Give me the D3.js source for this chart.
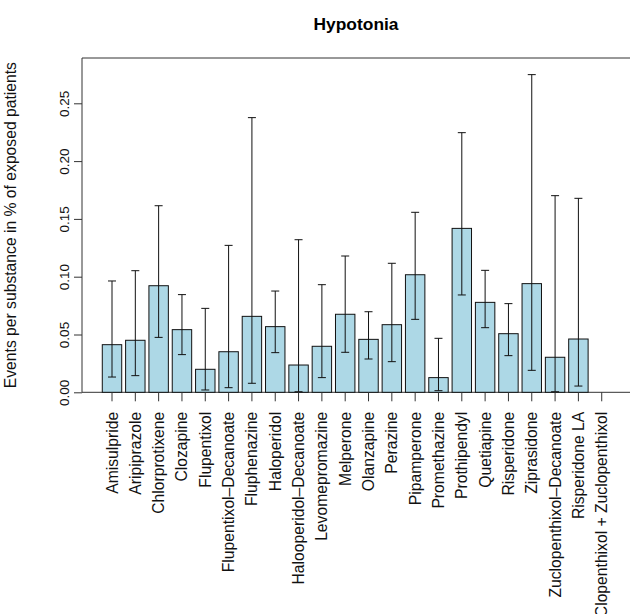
<!DOCTYPE html>
<html>
<head>
<meta charset="utf-8">
<script src="https://cdn.jsdelivr.net/npm/d3@7"></script>
<style>
  body { margin: 0; background: #fff; }
  text { font-family: "Liberation Sans", Arial, Helvetica, sans-serif; }
</style>
</head>
<body>
<div id="chart"></div>
<script>
const substances = ["Amisulpride", "Aripiprazole", "Chlorprotixene", "Clozapine", "Flupentixol",
  "Flupentixol\u2013Decanoate", "Fluphenazine", "Haloperidol", "Halooperidol\u2013Decanoate",
  "Levomepromazine", "Melperone", "Olanzapine", "Perazine", "Pipamperone", "Promethazine",
  "Prothipendyl", "Quetiapine", "Risperidone", "Ziprasidone", "Zuclopenthixol\u2013Decanoate",
  "Risperidone LA", "Clopenthixol + Zuclopenthixol"];
const rate  = [0.0412, 0.0450, 0.0922, 0.0542, 0.0199, 0.0351, 0.0657, 0.0568, 0.0236, 0.0398, 0.0675,
  0.0458, 0.0585, 0.1017, 0.0127, 0.1418, 0.0778, 0.0507, 0.0940, 0.0303, 0.0461, 0];
const lower = [0.0132, 0.0144, 0.0475, 0.0326, 0.0020, 0.0040, 0.0078, 0.0343, 0.0005, 0.0127, 0.0346,
  0.0288, 0.0265, 0.0631, 0.0014, 0.0842, 0.0559, 0.0317, 0.0190, 0.0005, 0.0054, null];
const upper = [0.0963, 0.1052, 0.1614, 0.0845, 0.0726, 0.1271, 0.2376, 0.0876, 0.1320, 0.0931, 0.1179,
  0.0697, 0.1116, 0.1557, 0.0467, 0.2246, 0.1055, 0.0767, 0.2748, 0.1701, 0.1678, null];
const yTicks = [0, 0.05, 0.10, 0.15, 0.20, 0.25];

const width = 630, height = 614;
const margin = {top: 58, right: 0, bottom: 222, left: 82};

const svg = d3.select("#chart").append("svg")
  .attr("width", width).attr("height", height);

// bar positions like R barplot: width 1, space 0.2
const step = 23.32, bw = step / 1.2;
const x0 = 112; // centre of first bar
const x = d3.scaleLinear().domain([0, substances.length - 1]).range([x0, x0 + step * (substances.length - 1)]);
const y = d3.scaleLinear().domain([0, 0.25]).range([392.3, 392.3 - 0.25 * 1156]);

const data = substances.map((s, i) => ({name: s, v: rate[i], lo: lower[i], hi: upper[i], i: i}));

// frame
svg.append("path")
  .attr("d", `M${width + 5},${y(0)}H${margin.left}V${margin.top}H${width + 5}`)
  .attr("fill", "none").attr("stroke", "#333").attr("stroke-width", 1);

svg.selectAll("rect.bar").data(data.filter(d => d.v > 0)).enter()
  .append("rect").attr("class", "bar")
  .attr("x", d => x(d.i) - bw / 2)
  .attr("width", bw)
  .attr("y", d => y(d.v))
  .attr("height", d => y(0) - y(d.v))
  .attr("fill", "#ADD8E6").attr("stroke", "#111").attr("stroke-width", 1);

// error bars
const eb = svg.append("g").attr("stroke", "#111").attr("stroke-width", 1);
data.filter(d => d.hi != null).forEach(d => {
  const cx = x(d.i);
  eb.append("line").attr("x1", cx).attr("x2", cx).attr("y1", y(d.lo)).attr("y2", y(d.hi));
  eb.append("line").attr("x1", cx - 4).attr("x2", cx + 4).attr("y1", y(d.hi)).attr("y2", y(d.hi));
  eb.append("line").attr("x1", cx - 4).attr("x2", cx + 4).attr("y1", y(d.lo)).attr("y2", y(d.lo));
});

// y axis
const yAxis = d3.axisLeft(y).tickValues(yTicks).tickFormat(d3.format(".2f")).tickSize(8).tickPadding(0);
const gy = svg.append("g").attr("transform", `translate(${margin.left},0)`).call(yAxis);
gy.select(".domain").remove();
gy.selectAll("line").attr("stroke", "#333");
gy.selectAll("text")
  .attr("transform", "translate(-13,0) rotate(-90)")
  .attr("x", 0).attr("y", 0).attr("dy", 0)
  .attr("text-anchor", "middle")
  .style("font-size", "13.5px").attr("fill", "#111");

// x axis
const gx = svg.append("g").attr("transform", `translate(0,${y(0)})`);
gx.selectAll("line").data(data).enter().append("line")
  .attr("x1", d => x(d.i)).attr("x2", d => x(d.i))
  .attr("y1", 0).attr("y2", 9).attr("stroke", "#333");
gx.selectAll("text").data(data).enter().append("text")
  .attr("transform", d => `translate(${x(d.i) + 5.5},19.5) rotate(-90)`)
  .attr("text-anchor", "end")
  .style("font-size", "15.7px").attr("fill", "#111")
  .text(d => d.name);

// title + y label
svg.append("text").attr("x", 356).attr("y", 30)
  .attr("text-anchor", "middle").style("font-size", "17.4px").style("font-weight", "bold")
  .text("Hypotonia");
svg.append("text")
  .attr("transform", `translate(16,${(margin.top + y(0)) / 2}) rotate(-90)`)
  .attr("text-anchor", "middle").style("font-size", "15.7px").attr("fill", "#111")
  .text("Events per substance in % of exposed patients");
</script>
</body>
</html>
